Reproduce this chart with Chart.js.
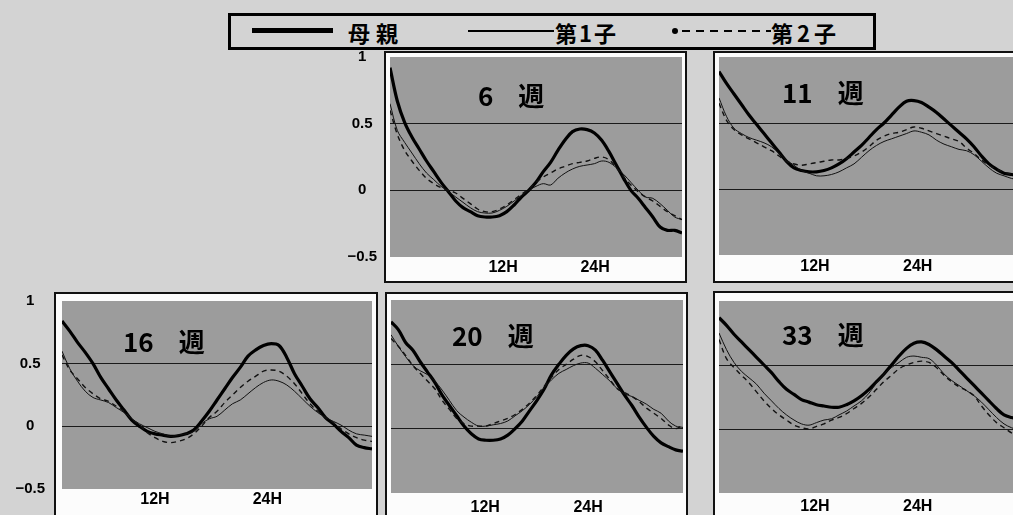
<!DOCTYPE html>
<html><head><meta charset="utf-8">
<script src="https://cdn.jsdelivr.net/npm/chart.js@4.4.1/dist/chart.umd.min.js"></script>
<style>
html,body{margin:0;padding:0;}
body{width:1013px;height:515px;overflow:hidden;position:relative;background:#d3d3d3;font-family:"Noto Sans CJK JP",sans-serif;}
.box{position:absolute;background:#fcfcfc;border:2px solid #111;box-sizing:border-box;}
canvas{position:absolute;}
#legend{position:absolute;left:228px;top:13px;width:648px;height:37px;border:3px solid #000;box-sizing:border-box;}
#legend .ln{position:absolute;}
#legend .tx{position:absolute;font-weight:bold;font-size:22px;line-height:22px;color:#000;white-space:nowrap;}
</style></head>
<body>
<div id="legend">
  <div class="ln" style="left:21px;top:12px;width:81px;height:5px;background:#000;"></div>
  <div class="tx" style="left:117px;top:5px;letter-spacing:6px;">母親</div>
  <div class="ln" style="left:237px;top:14px;width:86px;height:1.5px;background:#000;"></div>
  <div class="tx" style="left:324px;top:5px;letter-spacing:2px;">第1子</div>
  <div class="ln" style="left:441px;top:12px;width:6px;height:6px;border-radius:50%;background:#000;"></div>
  <div class="ln" style="left:451px;top:14px;width:89px;height:2px;background:repeating-linear-gradient(90deg,#000 0 8px,transparent 8px 14px);"></div>
  <div class="tx" style="left:540px;top:5px;letter-spacing:4px;">第2子</div>
</div>
<script>
// lag index (sample number along the lag axis)
const lags = [0,1,2,3,4,5,6,7,8,9,10,11,12,13,14,15,16,17,18,19,20,21,22,23,24,25,26,27,28,29,30,31,32,33,34,35,36,37,38,39,40];

const seriesNames = ['母親','第1子','第2子'];
const xTickLabels = ['12H','24H'];
const yTickValues = [-0.5, 0, 0.5, 1];
const yTickLabels = ['−0.5','0','0.5','1'];
const gridValues = [0, 0.5];

// 6 週
const w6Mother = [0.92,0.67,0.51,0.40,0.31,0.22,0.14,0.06,-0.01,-0.08,-0.13,-0.16,-0.19,-0.20,-0.20,-0.19,-0.16,-0.11,-0.05,0.00,0.06,0.14,0.21,0.30,0.38,0.44,0.46,0.455,0.43,0.375,0.29,0.19,0.09,0.00,-0.06,-0.13,-0.20,-0.275,-0.30,-0.30,-0.32];
const w6Child1 = [0.65,0.45,0.36,0.28,0.20,0.13,0.08,0.03,-0.01,-0.05,-0.09,-0.13,-0.16,-0.17,-0.17,-0.15,-0.12,-0.08,-0.04,0.00,0.03,0.05,0.04,0.09,0.13,0.16,0.18,0.19,0.20,0.22,0.21,0.17,0.12,0.06,0.00,-0.05,-0.06,-0.10,-0.15,-0.20,-0.22];
const w6Child2 = [0.60,0.42,0.30,0.22,0.15,0.09,0.05,0.02,0.00,-0.02,-0.06,-0.10,-0.14,-0.16,-0.16,-0.14,-0.11,-0.07,-0.03,0.01,0.06,0.10,0.13,0.16,0.18,0.20,0.21,0.22,0.24,0.25,0.23,0.17,0.10,0.04,-0.01,-0.05,-0.08,-0.12,-0.16,-0.19,-0.22];
// 11 週
const w11Mother = [0.89,0.80,0.72,0.64,0.56,0.49,0.42,0.35,0.28,0.21,0.16,0.14,0.13,0.13,0.14,0.16,0.19,0.23,0.28,0.33,0.39,0.45,0.50,0.56,0.62,0.665,0.67,0.655,0.62,0.58,0.53,0.48,0.43,0.38,0.32,0.25,0.19,0.15,0.12,0.11,0.10];
const w11Child1 = [0.69,0.55,0.46,0.42,0.39,0.37,0.35,0.32,0.27,0.22,0.18,0.14,0.12,0.10,0.10,0.11,0.13,0.16,0.19,0.24,0.29,0.33,0.36,0.38,0.40,0.42,0.44,0.43,0.41,0.37,0.34,0.32,0.30,0.29,0.26,0.21,0.16,0.12,0.10,0.08,0.07];
const w11Child2 = [0.65,0.52,0.45,0.41,0.38,0.35,0.32,0.29,0.25,0.21,0.19,0.18,0.19,0.20,0.21,0.22,0.22,0.23,0.25,0.28,0.32,0.37,0.40,0.42,0.43,0.45,0.47,0.46,0.44,0.42,0.40,0.38,0.36,0.31,0.27,0.22,0.18,0.15,0.13,0.11,0.10];
// 16 週
const w16Mother = [0.84,0.76,0.67,0.59,0.50,0.39,0.30,0.21,0.13,0.05,0.00,-0.04,-0.06,-0.07,-0.08,-0.075,-0.06,-0.03,0.04,0.12,0.21,0.30,0.39,0.47,0.56,0.61,0.645,0.66,0.645,0.55,0.42,0.32,0.22,0.15,0.07,0.02,-0.04,-0.09,-0.15,-0.17,-0.18];
const w16Child1 = [0.60,0.46,0.36,0.28,0.23,0.21,0.19,0.15,0.11,0.06,0.02,-0.01,-0.04,-0.06,-0.08,-0.07,-0.06,-0.04,0.02,0.06,0.08,0.13,0.18,0.21,0.26,0.31,0.35,0.37,0.36,0.33,0.28,0.22,0.16,0.11,0.07,0.04,0.01,-0.03,-0.06,-0.07,-0.08];
const w16Child2 = [0.57,0.45,0.38,0.31,0.26,0.22,0.20,0.16,0.12,0.06,0.01,-0.05,-0.09,-0.12,-0.13,-0.12,-0.10,-0.06,0.00,0.07,0.12,0.19,0.25,0.31,0.36,0.40,0.44,0.45,0.44,0.40,0.34,0.26,0.18,0.12,0.07,0.03,-0.02,-0.06,-0.09,-0.11,-0.12];
// 20 週
const w20Mother = [0.83,0.77,0.67,0.61,0.52,0.44,0.36,0.26,0.18,0.10,0.02,-0.04,-0.08,-0.09,-0.09,-0.08,-0.05,0.00,0.06,0.14,0.22,0.31,0.42,0.50,0.57,0.62,0.645,0.645,0.61,0.53,0.44,0.35,0.26,0.18,0.09,0.01,-0.06,-0.11,-0.14,-0.165,-0.175];
const w20Child1 = [0.73,0.64,0.56,0.49,0.45,0.42,0.37,0.30,0.22,0.14,0.09,0.05,0.02,0.02,0.03,0.04,0.06,0.10,0.14,0.19,0.25,0.32,0.38,0.43,0.46,0.49,0.51,0.51,0.47,0.42,0.37,0.31,0.27,0.25,0.22,0.19,0.15,0.12,0.06,0.02,0.01];
const w20Child2 = [0.70,0.64,0.57,0.49,0.43,0.37,0.31,0.22,0.15,0.08,0.04,0.02,0.02,0.02,0.04,0.06,0.08,0.11,0.15,0.20,0.26,0.33,0.40,0.46,0.50,0.54,0.57,0.56,0.52,0.45,0.38,0.31,0.28,0.25,0.21,0.16,0.12,0.08,0.03,0.00,0.03];
// 33 週
const w33Mother = [0.87,0.81,0.74,0.68,0.62,0.56,0.50,0.44,0.37,0.31,0.27,0.23,0.21,0.19,0.18,0.17,0.17,0.19,0.22,0.26,0.31,0.37,0.43,0.50,0.57,0.63,0.67,0.68,0.66,0.62,0.57,0.52,0.46,0.40,0.34,0.28,0.22,0.16,0.11,0.09,0.08];
const w33Child1 = [0.75,0.62,0.52,0.45,0.40,0.35,0.28,0.22,0.16,0.11,0.07,0.04,0.03,0.05,0.07,0.08,0.11,0.14,0.18,0.22,0.28,0.36,0.43,0.48,0.52,0.56,0.57,0.56,0.55,0.50,0.43,0.38,0.34,0.30,0.26,0.21,0.15,0.09,0.04,0.01,-0.01];
const w33Child2 = [0.70,0.55,0.48,0.42,0.36,0.29,0.22,0.16,0.11,0.07,0.03,0.01,0.00,0.02,0.04,0.07,0.09,0.12,0.16,0.20,0.25,0.31,0.37,0.42,0.47,0.50,0.52,0.53,0.52,0.48,0.42,0.37,0.33,0.30,0.26,0.18,0.11,0.05,0.01,-0.03,-0.05];

const panels = [
  {week:'6',  data:[w6Mother,w6Child1,w6Child2],   box:[384,51,303,232], plot:[390,57,682,257], yAxisW:58, yPad:13, xTicks:[15.5,28.1], xPad:1, xH:26, title:[88,39]},
  {week:'11', data:[w11Mother,w11Child1,w11Child2], box:[713,51,330,232], plot:[719,57,1019,255], yAxisW:0, yPad:0, xTicks:[12.8,26.5], xPad:2, xH:26, title:[63,36]},
  {week:'16', data:[w16Mother,w16Child1,w16Child2], box:[54,292,324,240], plot:[62,301,372,491], yAxisW:62, yPad:17, xTicks:[12.0,26.5], xPad:1, xH:24, title:[61,41]},
  {week:'20', data:[w20Mother,w20Child1,w20Child2], box:[385,292,303,240], plot:[391,300,683,493], yAxisW:0, yPad:0, xTicks:[12.9,27.0], xPad:5, xH:22, title:[61,36]},
  {week:'33', data:[w33Mother,w33Child1,w33Child2], box:[713,291,330,240], plot:[719,301,1019,493], yAxisW:0, yPad:0, xTicks:[12.8,26.5], xPad:4, xH:22, title:[63,34]}
];

const styles = [
  {borderColor:'#000', borderWidth:3.2, borderDash:[]},
  {borderColor:'#111', borderWidth:1, borderDash:[]},
  {borderColor:'#111', borderWidth:1.4, borderDash:[5,4]}
];

const plotBg = {
  id:'plotBg',
  beforeDraw(chart){
    const a = chart.chartArea, ctx = chart.ctx;
    ctx.save(); ctx.fillStyle = '#9c9c9c';
    ctx.fillRect(a.left, a.top, a.right - a.left, a.bottom - a.top);
    ctx.restore();
  }
};
const weekTitle = {
  id:'weekTitle',
  beforeDatasetsDraw(chart, args, opts){
    const a = chart.chartArea, ctx = chart.ctx;
    ctx.save();
    ctx.fillStyle = '#000';
    ctx.font = 'bold 26px "Noto Sans CJK JP"';
    ctx.textBaseline = 'middle'; ctx.textAlign = 'left';
    const x = a.left + opts.dx, y = a.top + opts.dy;
    ctx.fillText(opts.week, x, y);
    const w = ctx.measureText(opts.week).width;
    ctx.fillText('週', x + w + 25, y);
    ctx.restore();
  }
};

function config(p, padTop){
  return {
    type:'line',
    data:{
      labels: lags,
      datasets: p.data.map((d,i) => ({
        label: seriesNames[i], data: d,
        borderColor: styles[i].borderColor, borderWidth: styles[i].borderWidth,
        borderDash: styles[i].borderDash, pointRadius:0, tension:0.35, fill:false
      })).reverse()
    },
    plugins:[plotBg, weekTitle],
    options:{
      responsive:false, maintainAspectRatio:false, animation:false, devicePixelRatio:1,
      layout:{padding:{top:padTop,left:0,right:0,bottom:0}},
      plugins:{legend:{display:false}, tooltip:{enabled:false}, weekTitle:{week:p.week, dx:p.title[0], dy:p.title[1]}},
      scales:{
        x:{type:'linear', min:0, max:40,
          grid:{display:false, drawTicks:false}, border:{display:false},
          afterBuildTicks: s => { s.ticks = p.xTicks.map(v => ({value:v})); },
          afterFit: s => { s.height = p.xH; },
          ticks:{autoSkip:false, maxRotation:0, padding:p.xPad, color:'#000',
            font:{family:'"Liberation Sans", Arial, sans-serif', size:16, weight:'bold'},
            callback:(v,i) => xTickLabels[i]}
        },
        y:{min:-0.5, max:1,
          border:{display:false},
          grid:{drawTicks:false, lineWidth:1, color: c => gridValues.includes(c.tick && c.tick.value) ? '#1a1a1a' : 'rgba(0,0,0,0)'},
          afterBuildTicks: s => { s.ticks = yTickValues.map(v => ({value:v})); },
          afterFit: s => { s.width = p.yAxisW; },
          ticks:{display: p.yAxisW > 0, crossAlign:'center', padding:p.yPad, color:'#000',
            font:{family:'"Liberation Sans", Arial, sans-serif', size:15, weight:'bold'},
            callback:(v,i) => yTickLabels[i]}
        }
      }
    }
  };
}

function place(cv, l, t, w, h){
  cv.width = w; cv.height = h;
  cv.style.left = l + 'px'; cv.style.top = t + 'px';
  cv.style.width = w + 'px'; cv.style.height = h + 'px';
}

panels.forEach(p => {
  const box = document.createElement('div');
  box.className = 'box';
  box.style.left = p.box[0] + 'px'; box.style.top = p.box[1] + 'px';
  box.style.width = p.box[2] + 'px'; box.style.height = p.box[3] + 'px';
  document.body.appendChild(box);
});

panels.forEach(p => {
  const padTop = 12;
  const cl = p.plot[0] - p.yAxisW;
  const cw = p.plot[2] - cl;
  let ct = p.plot[1] - padTop;
  let ch = p.plot[3] - ct + p.xH;
  const cv = document.createElement('canvas');
  document.body.appendChild(cv);
  place(cv, cl, ct, cw, ch);
  let chart = new Chart(cv, config(p, padTop));
  // if the library reserved extra room above the plot, rebuild with a taller canvas
  const extra = Math.round(chart.chartArea.top - padTop);
  if (extra !== 0) {
    chart.destroy();
    ct -= extra; ch += extra;
    place(cv, cl, ct, cw, ch);
    chart = new Chart(cv, config(p, padTop));
  }
});
</script>
</body></html>
